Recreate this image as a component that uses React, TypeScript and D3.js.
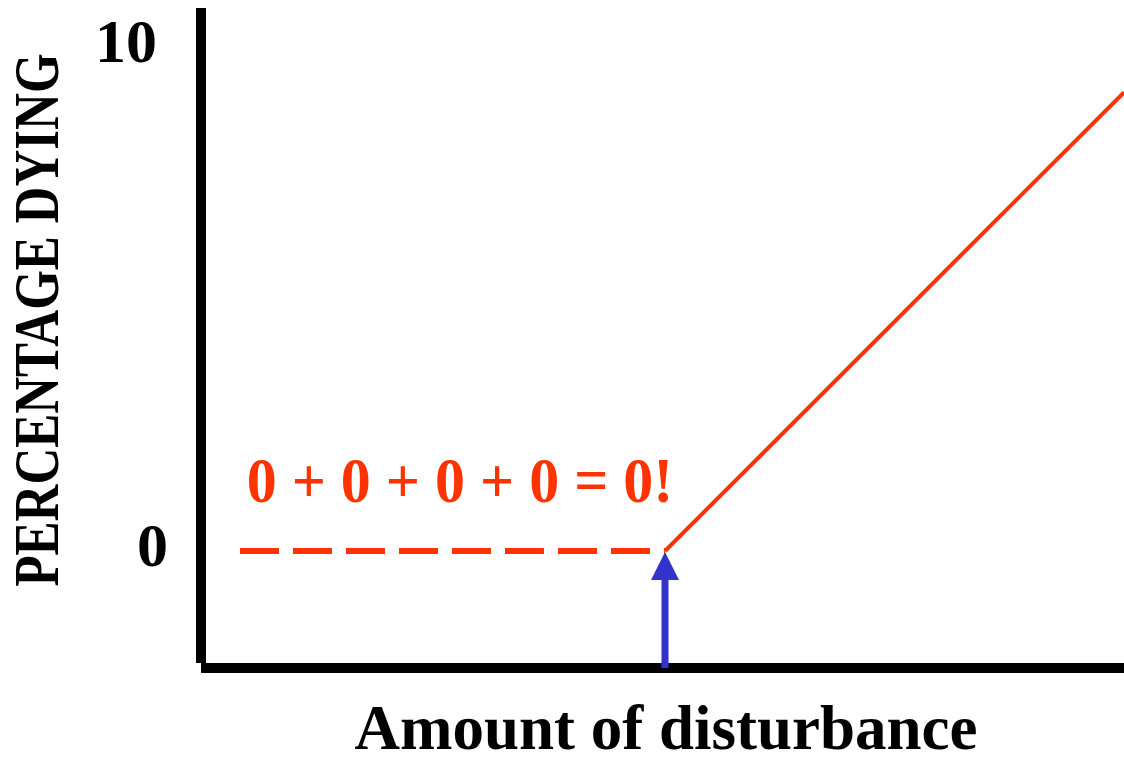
// Threshold response: nothing dies below the disturbance threshold,
// then the percentage dying climbs linearly.
import React from 'react';
import * as d3 from 'd3';

const WIDTH = 1124;
const HEIGHT = 763;

const yTicks = [0, 10];
const yTickLabels = ['0', '10'];
const thresholdX = 5;
const responseX = [5, 10];
const responseY = [0, 9.1];
const flatX = [0.37, 5];
const flatY = [0, 0];
const sumLabel = '0 + 0 + 0 + 0 = 0!';
const xAxisLabel = 'Amount of disturbance';
const yAxisLabel = 'PERCENTAGE  DYING';

const RED = '#ff3300';
const BLUE = '#3333cc';
const FONT = '"Liberation Serif", "Times New Roman", serif';

const App = () => {
  const x = d3.scaleLinear().domain([0, 10]).range([206, 1124]);
  const y = d3.scaleLinear().domain([0, 10]).range([551, 47]);

  const line = d3
    .line<number[]>()
    .x((d) => x(d[0]))
    .y((d) => y(d[1]));

  const flatPts = flatX.map((v, i) => [v, flatY[i]]);
  const respPts = responseX.map((v, i) => [v, responseY[i]]);

  const ax = x(thresholdX);
  const axisY = 668;
  const tipY = y(0) + 1;

  return (
    <svg
      width={WIDTH}
      height={HEIGHT}
      style={{ position: 'absolute', left: 0, top: 0, background: 'white' }}
    >
      <rect width={WIDTH} height={HEIGHT} fill="white" />

      {/* axes */}
      <line x1={201} x2={WIDTH} y1={axisY} y2={axisY} stroke="black" strokeWidth={10} />
      <line x1={201} x2={201} y1={8} y2={663} stroke="black" strokeWidth={10} />

      {/* tick labels */}
      {yTicks.map((t, i) => (
        <text
          key={t}
          x={i === 0 ? 168 : 157}
          y={y(t) + 15}
          textAnchor="end"
          fontFamily={FONT}
          fontWeight="bold"
          fontSize={62}
        >
          {yTickLabels[i]}
        </text>
      ))}

      {/* flat part below threshold */}
      <path
        d={line(flatPts) ?? ''}
        fill="none"
        stroke={RED}
        strokeWidth={6}
        strokeDasharray="39,14"
      />
      {/* rising part */}
      <path d={line(respPts) ?? ''} fill="none" stroke={RED} strokeWidth={4} />

      {/* threshold arrow */}
      <line x1={ax} x2={ax} y1={axisY} y2={tipY + 26} stroke={BLUE} strokeWidth={7} />
      <path d={`M${ax},${tipY} L${ax - 14},${tipY + 28} L${ax + 14},${tipY + 28} Z`} fill={BLUE} />

      <text
        transform="translate(460,502) scale(1,1.04)"
        textAnchor="middle"
        fontFamily={FONT}
        fontWeight="bold"
        fontSize={60}
        fill={RED}
      >
        {sumLabel}
      </text>

      <text
        x={666}
        y={749}
        textAnchor="middle"
        fontFamily={FONT}
        fontWeight="bold"
        fontSize={63}
      >
        {xAxisLabel}
      </text>

      <text
        transform="translate(58,320) rotate(-90) scale(1,1.24)"
        textAnchor="middle"
        fontFamily={FONT}
        fontWeight="bold"
        fontSize={51}
      >
        {yAxisLabel}
      </text>
    </svg>
  );
};

export default App;
